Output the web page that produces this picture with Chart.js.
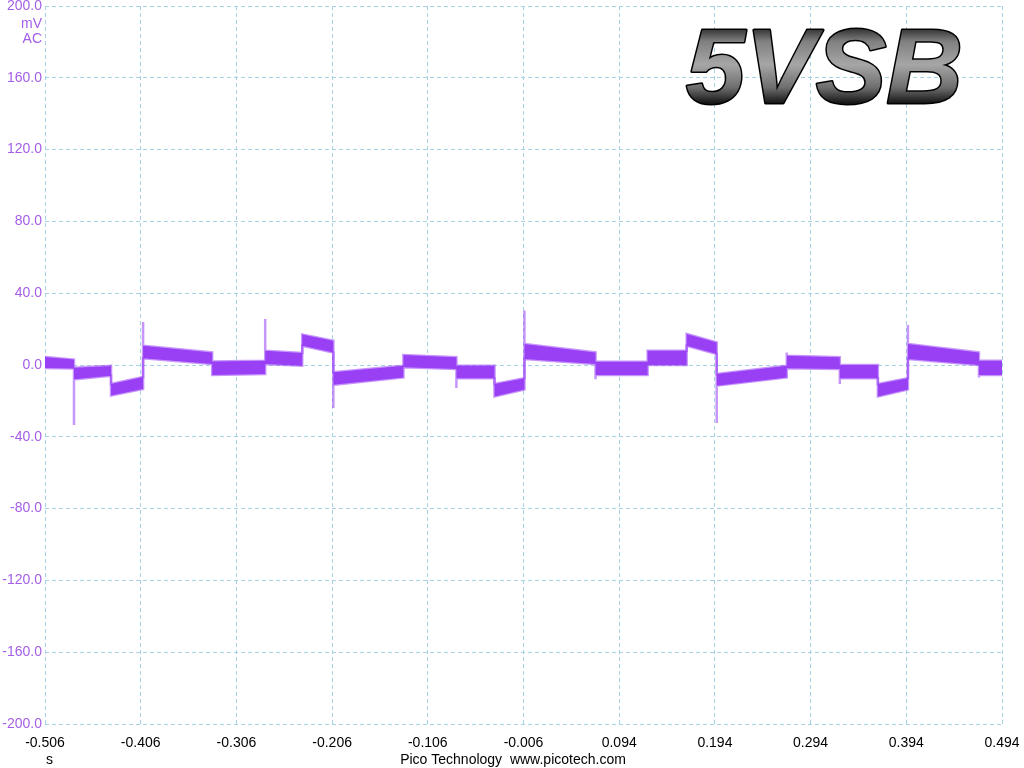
<!DOCTYPE html>
<html><head><meta charset="utf-8">
<script src="https://cdn.jsdelivr.net/npm/chart.js@4/dist/chart.umd.min.js"></script>
<style>html,body{margin:0;padding:0;background:#fff;overflow:hidden}#wrap{width:1024px;height:768px;position:relative}</style>
</head><body><div id="wrap"><canvas id="c" width="1024" height="768"></canvas></div>
<script>
// ---- tick labels ----
const xTicks = [-0.506, -0.406, -0.306, -0.206, -0.106, -0.006, 0.094, 0.194, 0.294, 0.394, 0.494];
const yTicks = [-200, -160, -120, -80, -40, 0, 40, 80, 120, 160, 200];

// ---- waveform: step boundaries (s) and band envelope per segment (mV) ----
const stepTimes  = [-0.506, -0.4757, -0.4370, -0.4035, -0.3313, -0.2759, -0.2372, -0.2047, -0.1315, -0.0761, -0.0363, -0.0050, 0.0693, 0.1237, 0.1645, 0.1959, 0.2691, 0.3245, 0.3643, 0.3957, 0.4699, 0.494];
const upperStart = [4.5, -1.5, -10.6, 10.7, 2.0, 8.0, 17.0, -4.0, 5.6, -0.4, -10.6, 11.7, 1.8, 8.0, 17.3, -5.0, 5.2, 0.0, -10.6, 11.7, 2.4];
const upperEnd   = [3.0, -0.5, -6.7, 7.0, 2.4, 6.7, 13.5, -0.4, 4.3, -0.4, -7.4, 7.0, 1.8, 8.0, 12.6, -0.4, 4.3, 0.0, -7.4, 7.0, 2.4];
const lowerStart = [-1.7, -8.0, -17.0, 3.7, -5.6, 0.6, 10.7, -11.0, -1.3, -7.4, -17.5, 3.3, -5.6, 0.0, 10.7, -11.5, -1.8, -7.4, -17.5, 3.3, -5.6];
const lowerEnd   = [-2.0, -6.0, -13.4, 0.5, -5.0, -0.4, 7.0, -6.9, -2.2, -7.4, -13.7, 0.5, -5.6, 0.0, 6.1, -6.9, -2.2, -7.4, -13.7, 0.0, -5.6];
// transient spikes at the steps
const spikeTimes  = [-0.4757, -0.4035, -0.2759, -0.2047, -0.0761, -0.0050, 0.0693, 0.1959, 0.2691, 0.3245, 0.3957, 0.4699];
const spikeValues = [-33.4, 24.0, 25.6, -24.0, -12.8, 30.3, -8.0, -32.3, 7.0, -10.6, 22.3, -6.9];

// ---- texts ----
const titleText = '5VSB';
const yUnitLines = ['mV', 'AC'];
const xUnitText = 's';
const footerText = 'Pico Technology  www.picotech.com';

const TRACE = '#9940f5';
const TRACE_HALO = 'rgba(153,64,245,0.55)';
const LABEL = '#a45ee8';
const GRID = '#a6d2e4';
const FONT = '"Liberation Sans", Arial, sans-serif';

function envelope(starts, ends, upward) {
  const pts = [];
  for (let i = 0; i < starts.length; i++) {
    pts.push({x: stepTimes[i], y: starts[i]});
    pts.push({x: stepTimes[i + 1], y: ends[i]});
    const k = spikeTimes.indexOf(stepTimes[i + 1]);
    if (k >= 0 && (spikeValues[k] > 0) === upward) pts.push({x: stepTimes[i + 1], y: spikeValues[k]});
  }
  return pts;
}

const textPlugin = {
  id: 'texts',
  afterDraw(chart) {
    const ctx = chart.ctx;
    ctx.save();
    // y unit
    ctx.font = '14px ' + FONT;
    ctx.fillStyle = LABEL;
    ctx.textAlign = 'right';
    ctx.textBaseline = 'middle';
    ctx.fillText(yUnitLines[0], 42, 24);
    ctx.fillText(yUnitLines[1], 42, 39);
    // x unit and footer
    ctx.fillStyle = '#000';
    ctx.textAlign = 'left';
    ctx.fillText(xUnitText, 46, 760);
    ctx.textAlign = 'center';
    ctx.fillText(footerText, 513, 760);
    // title
    ctx.font = 'italic bold 106px ' + FONT;
    ctx.textAlign = 'left';
    ctx.textBaseline = 'alphabetic';
    const g = ctx.createLinearGradient(0, 26, 0, 103);
    g.addColorStop(0, '#222');
    g.addColorStop(0.2, '#808080');
    g.addColorStop(0.5, '#a6a6a6');
    g.addColorStop(0.8, '#6e6e6e');
    g.addColorStop(1, '#161616');
    ctx.lineJoin = 'round';
    ctx.strokeStyle = '#000';
    ctx.lineWidth = 3;
    ctx.strokeText(titleText, 686, 103);
    ctx.fillStyle = g;
    ctx.fillText(titleText, 686, 103);
    ctx.restore();
  }
};

new Chart(document.getElementById('c'), {
  type: 'line',
  data: {
    datasets: [
      {data: envelope(upperStart, upperEnd, true), borderColor: TRACE_HALO, borderWidth: 2.5, pointRadius: 0, fill: false, tension: 0},
      {data: envelope(lowerStart, lowerEnd, false), borderColor: TRACE_HALO, borderWidth: 2.5, pointRadius: 0, fill: '-1', backgroundColor: TRACE, tension: 0}
    ]
  },
  options: {
    responsive: false,
    animation: false,
    events: [],
    layout: {padding: {top: 6, right: 22, left: 0, bottom: 0}},
    plugins: {legend: {display: false}, tooltip: {enabled: false}},
    scales: {
      x: {
        type: 'linear',
        min: xTicks[0], max: xTicks[xTicks.length - 1],
        afterBuildTicks(s) { s.ticks = xTicks.map(v => ({value: v})); },
        afterFit(s) { s.height = 44; s.paddingLeft = 0; s.paddingRight = 0; },
        grid: {color: GRID, lineWidth: 1, drawTicks: false},
        border: {display: false, dash: [4, 3]},
        ticks: {color: '#000', font: {family: FONT, size: 14}, padding: 11, maxRotation: 0, autoSkip: false,
          callback: v => Number(v).toFixed(3)}
      },
      y: {
        type: 'linear',
        min: yTicks[0], max: yTicks[yTicks.length - 1],
        afterBuildTicks(s) { s.ticks = yTicks.map(v => ({value: v})); },
        afterFit(s) { s.width = 45; s.paddingTop = 0; s.paddingBottom = 0; },
        grid: {color: GRID, lineWidth: 1, drawTicks: false},
        border: {display: false, dash: [4, 3]},
        ticks: {color: LABEL, font: {family: FONT, size: 14}, padding: 3, autoSkip: false,
          callback: v => Number(v).toFixed(1)}
      }
    }
  },
  plugins: [textPlugin]
});
</script></body></html>
